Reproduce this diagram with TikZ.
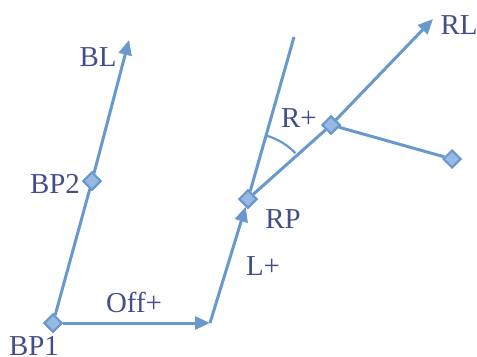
\documentclass[tikz,border=0pt]{standalone}
\usepackage{fontspec}
\setmainfont{Liberation Serif}
\usetikzlibrary{arrows.meta,shapes.geometric,calc}
\definecolor{ln}{RGB}{104,152,204}
\definecolor{dfill}{RGB}{150,186,228}
\definecolor{tx}{RGB}{66,78,136}
\tikzset{
  ln/.style={draw=ln,line width=3bp},
  arr/.style={ln,-{Triangle[length=15bp,width=13bp]}},
  dia/.style={diamond,draw=ln,fill=dfill,line width=2bp,minimum width=18bp,minimum height=18bp,inner sep=0pt},
  lbl/.style={text=tx,font=\fontsize{29}{31}\selectfont,inner sep=0pt}
}
\begin{document}
\begin{tikzpicture}[x=1bp,y=-1bp]
\useasboundingbox (0,0) rectangle (477,356);
\coordinate (BLt) at (129,40);
\coordinate (OFt) at (210,323);
\coordinate (TOP) at (294,37);
\coordinate (RLt) at (433,19);
\node[dia] (BP1) at (53,323) {};
\node[dia] (BP2) at (92,181) {};
\node[dia] (RP) at (248,199) {};
\node[dia] (RD) at (331,125) {};
\node[dia] (E) at (452,159) {};
\draw[ln] (BP1) -- (BP2);
\draw[arr] (BP2) -- (BLt);
\draw[arr] (BP1) -- (OFt);
\draw[arr] (OFt) -- (RP);
\draw[ln] (RP) -- (TOP);
\draw[ln] (RP) -- (RD);
\draw[arr] (RD) -- (RLt);
\draw[ln] (RD) -- (E);
\draw[ln,line width=2.2bp] ($(RP)+(-44:66)$) arc[start angle=-44,end angle=-74,radius=66];
\node[dia] at (RP) {};
\node[dia] at (RD) {};
\node[dia] at (BP1) {};
\node[dia] at (BP2) {};
\node[lbl] (tBL) at (98,57) {BL};
\node[lbl] (tBP2) at (55,184) {BP2};
\node[lbl] (tBP1) at (34,346) {BP1};
\node[lbl] (tOff) at (134,302) {Off+};
\node[lbl] (tL) at (263,266) {L+};
\node[lbl] (tRP) at (283,219) {RP};
\node[lbl] (tR) at (299,118) {R+};
\node[lbl] (tRL) at (459,25) {RL};
\end{tikzpicture}
\end{document}
